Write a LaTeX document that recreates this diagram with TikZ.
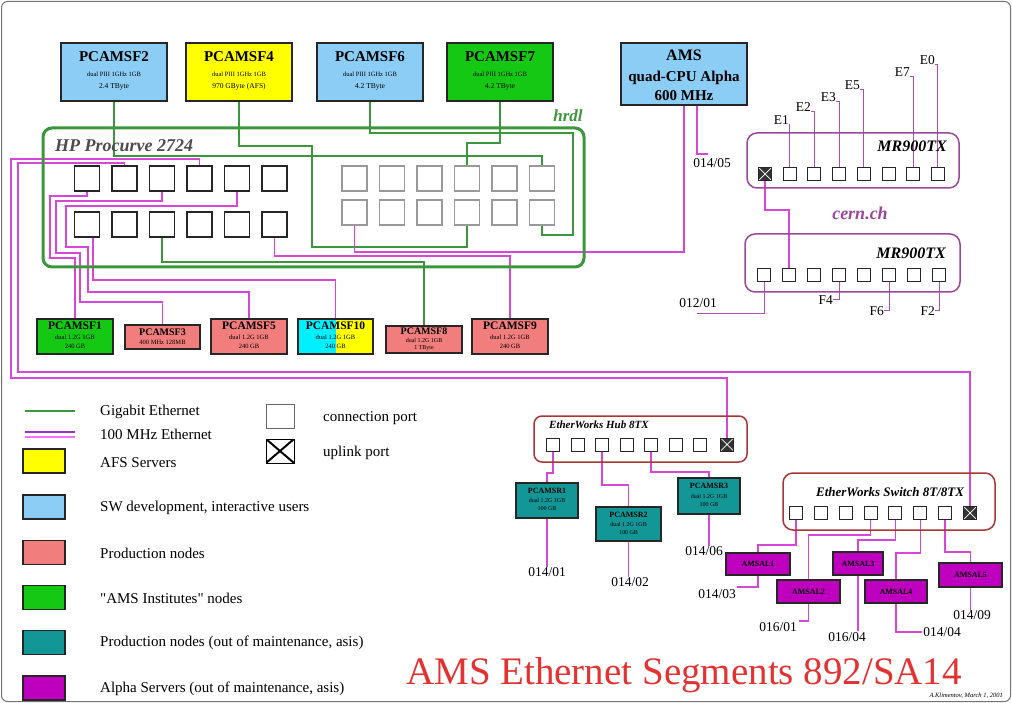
\documentclass[tikz,border=0pt]{standalone}
\usepackage{fontspec}
\setmainfont{Liberation Serif}
\usetikzlibrary{calc}
\pgfdeclarelayer{bg}
\pgfsetlayers{bg,main}
\definecolor{mag}{RGB}{215,70,215}
\definecolor{mrline}{RGB}{175,80,175}
\definecolor{grn}{RGB}{60,150,60}
\definecolor{ltblue}{RGB}{140,205,245}
\definecolor{yel}{RGB}{255,255,0}
\definecolor{brgreen}{RGB}{20,200,20}
\definecolor{salm}{RGB}{242,125,125}
\definecolor{tealb}{RGB}{18,150,150}
\definecolor{purp}{RGB}{190,0,190}
\definecolor{mrcol}{RGB}{155,70,155}
\definecolor{ewcol}{RGB}{165,55,55}
\definecolor{titlered}{RGB}{228,50,50}
\definecolor{cyanb}{RGB}{0,240,255}
\definecolor{legpurp}{RGB}{150,50,200}
\definecolor{legpink}{RGB}{255,110,255}
\newcommand{\myfs}[1]{\fontsize{#1}{#1}\selectfont}
\begin{document}
\begin{tikzpicture}[x=1pt,y=-1pt,
  box/.style={draw=black!85, line width=1.3pt, inner sep=0pt},
  port/.style={draw=black!85, line width=1.2pt, fill=white, minimum width=25, minimum height=25, inner sep=0pt},
  rport/.style={port, draw=black!40},
  sport/.style={draw=black!85, line width=1pt, fill=white, minimum size=13, inner sep=0pt},
  uport/.style={sport, fill=black!80, path picture={\draw[white,line width=0.7pt] (path picture bounding box.south west) -- (path picture bounding box.north east) (path picture bounding box.north west) -- (path picture bounding box.south east);}},
  gline/.style={draw=grn, line width=1.3pt},
  pline/.style={draw=mag, line width=1.4pt},
  tline/.style={draw=mrline, line width=1pt},
  txt/.style={inner sep=0pt, text=black},
  lbl/.style={inner sep=0pt, font=\myfs{13.5}},
  frame/.style={line width=1.5pt, inner sep=0pt},
]
\useasboundingbox (0,0) rectangle (1012,703);
\draw[black!55, line width=1pt, rounded corners=6pt] (1.5,1.5) rectangle (1010.5,701.5);

% ---------- top hosts ----------
\node[box, fill=ltblue, minimum width=106, minimum height=58] (sf2) at (114,72) {};
\node[txt, font=\myfs{15}\bfseries] at (114,57) {PCAMSF2};
\node[txt, font=\myfs{6.5}] at (114,74) {dual PIII 1GHz 1GB};
\node[txt, font=\myfs{7.5}] at (114,87) {2.4 TByte};

\node[box, fill=yel, minimum width=106, minimum height=58] (sf4) at (239,72) {};
\node[txt, font=\myfs{15}\bfseries] at (239,57) {PCAMSF4};
\node[txt, font=\myfs{6.5}] at (239,74) {dual PIII 1GHz 1GB};
\node[txt, font=\myfs{7.5}] at (239,87) {970 GByte (AFS)};

\node[box, fill=ltblue, minimum width=106, minimum height=58] (sf6) at (370,72) {};
\node[txt, font=\myfs{15}\bfseries] at (370,57) {PCAMSF6};
\node[txt, font=\myfs{6.5}] at (370,74) {dual PIII 1GHz 1GB};
\node[txt, font=\myfs{7.5}] at (370,87) {4.2 TByte};

\node[box, fill=brgreen, minimum width=106, minimum height=58] (sf7) at (500,72) {};
\node[txt, font=\myfs{15}\bfseries] at (500,57) {PCAMSF7};
\node[txt, font=\myfs{6.5}] at (500,74) {dual PIII 1GHz 1GB};
\node[txt, font=\myfs{7.5}] at (500,87) {4.2 TByte};

\node[box, fill=ltblue, minimum width=126, minimum height=62] (ams) at (684,74) {};
\node[txt, font=\myfs{16}\bfseries] at (684,55) {AMS};
\node[txt, font=\myfs{15}\bfseries] at (684,78) {quad-CPU Alpha};
\node[txt, font=\myfs{15}\bfseries] at (684,96) {600 MHz};

% ---------- HP Procurve ----------
\node[draw=grn, line width=3pt, rounded corners=9pt, minimum width=541, minimum height=139, inner sep=0pt] (procurve) at (313.5,197.5) {};
\node[txt, font=\myfs{18}\bfseries\itshape, text=black!70, anchor=west] at (55,146) {HP Procurve 2724};
\node[txt, font=\myfs{17}\bfseries\itshape, text=grn] at (568,116) {hrdl};
\foreach \i in {1,...,6} {
  \node[port] (lt\i) at ({87+37.5*(\i-1)},178.5) {};
  \node[port] (lb\i) at ({87+37.5*(\i-1)},224.5) {};
  \node[rport] (rt\i) at ({354.5+37.5*(\i-1)},178.5) {};
  \node[rport] (rb\i) at ({354.5+37.5*(\i-1)},212.5) {};
}

% ---------- bottom hosts ----------
\node[box, fill=brgreen, minimum width=76, minimum height=35] (b1) at (75,336.5) {};
\node[txt, font=\myfs{11.5}\bfseries] at (75,326) {PCAMSF1};
\node[txt, font=\myfs{6.5}] at (75,337) {dual 1.2G 1GB};
\node[txt, font=\myfs{6.5}] at (75,346) {240 GB};

\node[box, fill=salm, minimum width=75, minimum height=24] (b3) at (162.5,337) {};
\node[txt, font=\myfs{10}\bfseries] at (162.5,332) {PCAMSF3};
\node[txt, font=\myfs{6.5}] at (162.5,342) {400 MHz 128MB};

\node[box, fill=salm, minimum width=76, minimum height=35] (b5) at (249,336.5) {};
\node[txt, font=\myfs{11.5}\bfseries] at (249,326) {PCAMSF5};
\node[txt, font=\myfs{6.5}] at (249,337) {dual 1.2G 1GB};
\node[txt, font=\myfs{6.5}] at (249,346) {240 GB};

\node[box, fill=yel, minimum width=75, minimum height=35,
  path picture={\fill[cyanb] (path picture bounding box.south west) rectangle (path picture bounding box.north);}] (b10) at (335.5,336.5) {};
\node[txt, font=\myfs{11.5}\bfseries] at (335.5,326) {PCAMSF10};
\node[txt, font=\myfs{6.5}] at (335.5,337) {dual 1.2G 1GB};
\node[txt, font=\myfs{6.5}] at (335.5,346) {240 GB};

\node[box, fill=salm, minimum width=76, minimum height=27] (b8) at (424,339.5) {};
\node[txt, font=\myfs{10}\bfseries] at (424,331) {PCAMSF8};
\node[txt, font=\myfs{6}] at (424,340) {dual 1.2G 1GB};
\node[txt, font=\myfs{6}] at (424,348) {1 TByte};

\node[box, fill=salm, minimum width=76, minimum height=35] (b9) at (510,336.5) {};
\node[txt, font=\myfs{11.5}\bfseries] at (510,326) {PCAMSF9};
\node[txt, font=\myfs{6.5}] at (510,337) {dual 1.2G 1GB};
\node[txt, font=\myfs{6.5}] at (510,346) {240 GB};

% ---------- MR900TX ----------
\node[draw=mrcol, frame, rounded corners=10pt, minimum width=212, minimum height=55] (mr1) at (853,160.5) {};
\node[txt, font=\myfs{16}\bfseries\itshape, anchor=east] at (947,146) {MR900TX};
\node[uport] (mt1) at (765,174) {};
\foreach \i in {2,...,8} \node[sport] (mt\i) at ({765+24.7*(\i-1)},174) {};
\node[draw=mrcol, frame, rounded corners=10pt, minimum width=215, minimum height=58] (mr2) at (852.5,263) {};
\node[txt, font=\myfs{16}\bfseries\itshape, anchor=east] at (946,253) {MR900TX};
\foreach \i in {1,...,8} \node[sport] (mb\i) at ({764+25*(\i-1)},275.5) {};
\node[txt, font=\myfs{18}\bfseries\itshape, text=mrcol] at (860,213) {cern.ch};

\node[lbl, anchor=south east] (e1) at (789,125) {E1};
\node[lbl, anchor=south east] (e2) at (811,112) {E2};
\node[lbl, anchor=south east] (e3) at (836,102) {E3};
\node[lbl, anchor=south east] (e5) at (860,90) {E5};
\node[lbl, anchor=south east] (e7) at (910,77) {E7};
\node[lbl, anchor=south east] (e0) at (935,65) {E0};
\node[lbl, anchor=east] (f4) at (833,300) {F4};
\node[lbl, anchor=east] (f6) at (884,311) {F6};
\node[lbl, anchor=east] (f2) at (935,311) {F2};
\node[lbl] (l1201) at (698,303) {012/01};
\coordinate (c1201) at (697,314);
\node[lbl] (l0145) at (712,163) {014/05};
\coordinate (c0145) at (708,154);

% ---------- EtherWorks Hub ----------
\node[draw=ewcol, frame, rounded corners=8pt, minimum width=213, minimum height=46] (hub) at (640.5,439) {};
\node[txt, font=\myfs{11}\bfseries\itshape, anchor=west] at (549,425) {EtherWorks Hub 8TX};
\foreach \i in {1,...,7} \node[sport] (hb\i) at ({553+24.5*(\i-1)},444.5) {};
\node[uport] (hbU) at (727,444.5) {};

\node[box, fill=tealb, minimum width=62, minimum height=35] (t1) at (547,500.5) {};
\node[txt, font=\myfs{8}\bfseries] at (547,491) {PCAMSR1};
\node[txt, font=\myfs{6}] at (547,500) {dual 1.2G 1GB};
\node[txt, font=\myfs{6}] at (547,509) {100 GB};
\node[box, fill=tealb, minimum width=65, minimum height=34] (t2) at (628.5,524) {};
\node[txt, font=\myfs{8}\bfseries] at (628.5,515) {PCAMSR2};
\node[txt, font=\myfs{6}] at (628.5,524) {dual 1.2G 1GB};
\node[txt, font=\myfs{6}] at (628.5,533) {100 GB};
\node[box, fill=tealb, minimum width=62, minimum height=36] (t3) at (709,496) {};
\node[txt, font=\myfs{8}\bfseries] at (709,486) {PCAMSR3};
\node[txt, font=\myfs{6}] at (709,496) {dual 1.2G 1GB};
\node[txt, font=\myfs{6}] at (709,505) {100 GB};
\node[lbl] (l0141) at (547,572) {014/01};
\node[lbl] (l0142) at (630,582) {014/02};
\node[lbl] (l0146) at (704,551) {014/06};

% ---------- EtherWorks Switch ----------
\node[draw=ewcol, frame, rounded corners=10pt, minimum width=212, minimum height=57] (sw) at (889,501.5) {};
\node[txt, font=\myfs{13}\bfseries\itshape] at (890,492) {EtherWorks Switch 8T/8TX};
\foreach \i in {1,...,7} \node[sport] (sp\i) at ({796+24.85*(\i-1)},513) {};
\node[uport] (spU) at (970,513) {};

\node[box, fill=purp, minimum width=64, minimum height=22] (pA) at (758,564) {};
\node[txt, font=\myfs{8}\bfseries] at (758,564) {AMSAL1};
\node[box, fill=purp, minimum width=63, minimum height=23] (pB) at (808.5,591.5) {};
\node[txt, font=\myfs{8}\bfseries] at (808.5,591.5) {AMSAL2};
\node[box, fill=purp, minimum width=50, minimum height=23] (pC) at (858,563.5) {};
\node[txt, font=\myfs{8}\bfseries] at (858,563.5) {AMSAL3};
\node[box, fill=purp, minimum width=62, minimum height=23] (pD) at (896,591.5) {};
\node[txt, font=\myfs{8}\bfseries] at (896,591.5) {AMSAL4};
\node[box, fill=purp, minimum width=63, minimum height=24] (pE) at (970.5,575) {};
\node[txt, font=\myfs{8}\bfseries] at (970.5,575) {AMSAL5};
\node[lbl] (l0143) at (717,594) {014/03};
\node[lbl] (l0161) at (778,627) {016/01};
\node[lbl] (l0164) at (847,637) {016/04};
\node[lbl] (l0144) at (942,632) {014/04};
\node[lbl] (l0149) at (972,615) {014/09};
\coordinate (c0143) at (737,587);
\coordinate (c0161) at (799,621);
\coordinate (c0144) at (922,632);

% ---------- legend ----------
\coordinate (lg1a) at (25,411); \coordinate (lg1b) at (75,411);
\coordinate (lg2a) at (25,432); \coordinate (lg2b) at (75,432);
\coordinate (lg3a) at (25,437); \coordinate (lg3b) at (75,437);
\draw[grn, line width=2pt] (lg1a) -- (lg1b);
\draw[legpurp, line width=1.5pt] (lg2a) -- (lg2b);
\draw[legpink, line width=1.5pt] (lg3a) -- (lg3b);
\node[txt, font=\myfs{15}, anchor=west] at (100,412) {Gigabit Ethernet};
\node[txt, font=\myfs{15}, anchor=west] at (100,434) {100 MHz Ethernet};
\node[box, fill=yel, minimum width=42, minimum height=24] (lgA) at (44,461) {};
\node[txt, font=\myfs{15}, anchor=west] at (100,463) {AFS Servers};
\node[box, fill=ltblue, minimum width=42, minimum height=24] (lgB) at (44,507) {};
\node[txt, font=\myfs{15}, anchor=west] at (100,508) {SW development, interactive users};
\node[box, fill=salm, minimum width=42, minimum height=24] (lgC) at (44,552.5) {};
\node[txt, font=\myfs{15}, anchor=west] at (100,553) {Production nodes};
\node[box, fill=brgreen, minimum width=42, minimum height=24] (lgD) at (44,597.5) {};
\node[txt, font=\myfs{15}, anchor=west] at (100,598) {\textquotedbl AMS Institutes\textquotedbl\ nodes};
\node[box, fill=tealb, minimum width=42, minimum height=24] (lgE) at (44,642.5) {};
\node[txt, font=\myfs{15}, anchor=west] at (100,643) {Production nodes (out of maintenance, asis)};
\node[box, fill=purp, minimum width=42, minimum height=24] (lgF) at (44,688) {};
\node[txt, font=\myfs{15}, anchor=west] at (100,689) {Alpha Servers (out of maintenance, asis)};
\node[draw=black!60, line width=1pt, minimum width=28, minimum height=24, inner sep=0pt] (legC) at (280,416) {};
\node[txt, font=\myfs{15}, anchor=west] at (323,418) {connection port};
\node[draw=black, line width=1pt, minimum width=28, minimum height=24, inner sep=0pt,
  path picture={\draw[black,line width=2pt] (path picture bounding box.south west) -- (path picture bounding box.north east) (path picture bounding box.north west) -- (path picture bounding box.south east);}] (legU) at (280,451) {};
\node[txt, font=\myfs{15}, anchor=west] at (323,453) {uplink port};

% ---------- title ----------
\node[txt, font=\myfs{39}, text=titlered, anchor=base west] at (406,684) {AMS Ethernet Segments 892/SA14};
\node[txt, font=\myfs{6.5}\itshape, anchor=east] at (1003,696) {A.Klimentov, March 1, 2001};

% ---------- wires ----------
\begin{pgfonlayer}{bg}
\draw[gline] (sf2.south) |- (rt6.north |- 0,156) -- (rt6.north);
\draw[gline] (sf4.south) |- (312,146) |- (rb4.south |- 0,247) -- (rb4.south);
\draw[gline] (sf6.south) |- (573,133) |- (rb6.south |- 0,235) -- (rb6.south);
\draw[gline] (sf7.south) |- (rt4.north |- 0,143) -- (rt4.north);
\draw[gline] (lb3.south) |- (b8.north |- 0,262) -- (b8.north);

\draw[pline] (lt4.north) -- (lt4.north |- 0,159) -| (11,378) -| (hbU.north);
\draw[pline] (lt2.north) -- (lt2.north |- 0,163) -| (18,372) -| (spU.north);
\draw[pline] (lt1.south) -- (lt1.south |- 0,196) -| (50,258) -| (b1.north);
\draw[pline] (lt3.south) -- (lt3.south |- 0,201) -| (56,253) -| (80,302) -| (b3.north);
\draw[pline] (lt5.south) -- (lt5.south |- 0,206) -| (66,247) -| (88,292) -| (b5.north);
\draw[pline] ([xshift=6pt]lb1.south) |- (b10.north |- 0,280) -- (b10.north);
\draw[pline] (lb6.south) |- (b9.north |- 0,256) -- (b9.north);
\draw[pline] (rb1.south) |- (ams.south |- 0,252) -- (ams.south);
\draw[pline] ([xshift=13pt]ams.south) |- (c0145);

\draw[pline] (mt1.south) |- (mb2.north |- 0,210) -- (mb2.north);
\draw[tline] (e1.south east) -| (mt2.north);
\draw[tline] (e2.south east) -| (mt3.north);
\draw[tline] (e3.south east) -| (mt4.north);
\draw[tline] (e5.south east) -| (mt5.north);
\draw[tline] (e7.south east) -| (mt7.north);
\draw[tline] (e0.south east) -| (mt8.north);
\draw[tline] (mb4.south) |- (f4.east);
\draw[tline] (mb6.south) |- (f6.east);
\draw[tline] (mb8.south) |- (f2.east);
\draw[tline] (mb1.south) |- (c1201);

\draw[pline] (hb1.south) |- (t1.north |- 0,473) -- (l0141.north);
\draw[pline] (hb3.south) |- (t2.north |- 0,485) -- (t2.north |- l0142.north);
\draw[pline] (hb5.south) |- (t3.north |- 0,472) -- (t3.north |- l0146.north);

\draw[pline] (sp1.south) |- (pA.north |- 0,545) -- (pA.north);
\draw[pline] (pA.south) |- (c0143);
\draw[pline] (sp4.south) |- (pB.north |- 0,535) -- (pB.north);
\draw[pline] (pB.south) |- (c0161);
\draw[pline] (sp5.south) |- (pC.north |- 0,540) -- (pC.north);
\draw[pline] (pC.south) -- (pC.south |- 0,631);
\draw[pline] (sp6.south) |- (pD.north |- 0,553) -- (pD.north);
\draw[pline] (pD.south) |- (c0144);
\draw[pline] (sp7.south) |- (pE.north |- 0,552) -- (pE.north);
\draw[pline] (pE.south) -- (pE.south |- 0,611);
\end{pgfonlayer}
\end{tikzpicture}
\end{document}
